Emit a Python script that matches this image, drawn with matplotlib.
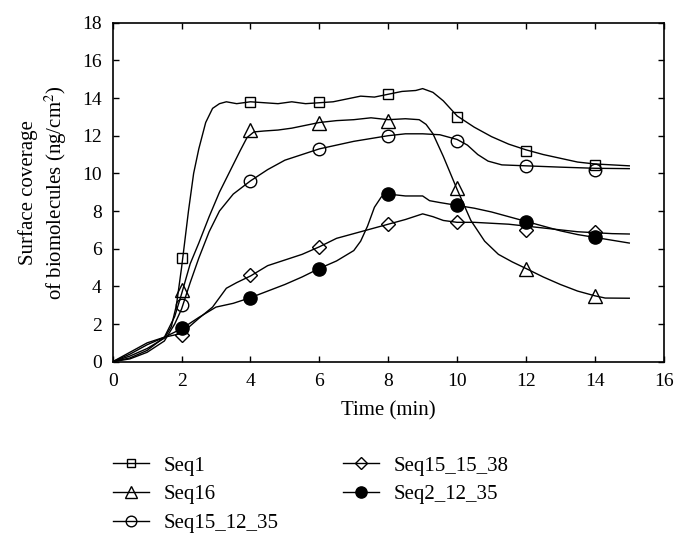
import matplotlib.pyplot as plt
from matplotlib.lines import Line2D

plt.rcParams['font.family'] = ['Liberation Serif', 'DejaVu Serif']
plt.rcParams['mathtext.fontset'] = 'stix'

# curve samples (time in min, coverage in ng/cm^2)
t_seq1 = [0, 0.5, 1.0, 1.5, 1.7, 1.85, 2.0, 2.2, 2.35, 2.5, 2.7, 2.9, 3.1, 3.3, 3.6, 4.0,
          4.4, 4.8, 5.2, 5.6, 6.0, 6.4, 6.8, 7.2, 7.6, 8.0, 8.4, 8.8, 9.0, 9.3, 9.6, 10.0,
          10.5, 11.0, 11.5, 12.0, 12.5, 13.0, 13.5, 14.0, 14.5, 15.0]
v_seq1 = [0, 0.3, 0.7, 1.25, 1.85, 3.0, 5.0, 8.0, 10.0, 11.3, 12.7, 13.45, 13.7, 13.8,
          13.7, 13.8, 13.75, 13.7, 13.8, 13.7, 13.75, 13.8, 13.95, 14.1, 14.05, 14.2,
          14.35, 14.4, 14.5, 14.3, 13.85, 13.05, 12.45, 11.95, 11.55, 11.25, 11.0, 10.8,
          10.6, 10.5, 10.45, 10.4]

t_seq16 = [0, 0.5, 1.0, 1.5, 1.8, 2.0, 2.25, 2.5, 2.8, 3.1, 3.4, 3.7, 3.9, 4.1, 4.4, 4.8,
           5.2, 5.6, 6.0, 6.5, 7.0, 7.5, 8.0, 8.5, 8.9, 9.1, 9.3, 9.6, 10.0, 10.4, 10.8,
           11.2, 11.6, 12.0, 12.5, 13.0, 13.5, 14.0, 14.3, 15.0]
v_seq16 = [0, 0.2, 0.6, 1.3, 2.4, 3.6, 5.2, 6.3, 7.7, 9.0, 10.1, 11.2, 11.9, 12.2, 12.25,
           12.3, 12.4, 12.55, 12.7, 12.8, 12.85, 12.95, 12.85, 12.9, 12.85, 12.6, 12.1,
           10.9, 9.15, 7.5, 6.4, 5.7, 5.3, 4.95, 4.5, 4.1, 3.75, 3.5, 3.38, 3.37]

t_seq15_12 = [0, 0.5, 1.0, 1.5, 1.8, 2.0, 2.25, 2.5, 2.8, 3.1, 3.5, 4.0, 4.5, 5.0, 5.5,
              6.0, 6.5, 7.0, 7.5, 8.0, 8.5, 9.0, 9.5, 10.0, 10.3, 10.6, 10.9, 11.3,
              12.0, 13.0, 14.0, 15.0]
v_seq15_12 = [0, 0.15, 0.5, 1.1, 2.0, 2.8, 4.2, 5.5, 6.9, 8.0, 8.9, 9.6, 10.2, 10.7, 11.0,
              11.3, 11.5, 11.7, 11.85, 12.0, 12.1, 12.1, 12.05, 11.8, 11.5, 11.0, 10.65,
              10.45, 10.4, 10.33, 10.27, 10.25]

t_seq15_15 = [0, 0.5, 1.0, 1.5, 2.0, 2.5, 2.9, 3.1, 3.3, 3.6, 4.0, 4.5, 5.0, 5.5, 6.0,
              6.5, 7.0, 7.5, 8.0, 8.5, 9.0, 9.3, 9.6, 10.0, 10.5, 11.0, 11.5, 12.0,
              12.5, 13.0, 13.5, 14.0, 14.5, 15.0]
v_seq15_15 = [0, 0.5, 1.0, 1.3, 1.5, 2.3, 2.9, 3.4, 3.9, 4.2, 4.55, 5.1, 5.4, 5.7, 6.1,
              6.55, 6.8, 7.05, 7.3, 7.55, 7.85, 7.7, 7.5, 7.4, 7.4, 7.35, 7.3, 7.2, 7.1,
              7.0, 6.9, 6.85, 6.8, 6.78]

t_seq2 = [0, 0.5, 1.0, 1.5, 2.0, 2.5, 3.0, 3.5, 4.0, 4.5, 5.0, 5.5, 6.0, 6.5, 7.0, 7.2,
          7.4, 7.6, 7.8, 8.0, 8.5, 9.0, 9.2, 9.5, 10.0, 10.5, 11.0, 11.5, 12.0, 12.5,
          13.0, 13.5, 14.0, 14.5, 15.0]
v_seq2 = [0, 0.4, 0.9, 1.3, 1.75, 2.35, 2.9, 3.1, 3.4, 3.75, 4.1, 4.5, 4.95, 5.35, 5.9,
          6.4, 7.2, 8.2, 8.75, 8.9, 8.8, 8.8, 8.55, 8.45, 8.3, 8.15, 7.95, 7.7, 7.45,
          7.2, 6.95, 6.75, 6.6, 6.45, 6.3]

# marker points every 2 min
t_marks = [2, 4, 6, 8, 10, 12, 14]
m_seq1 = [5.5, 13.8, 13.8, 14.2, 13.0, 11.2, 10.45]
m_seq16 = [3.8, 12.3, 12.7, 12.8, 9.2, 4.9, 3.5]
m_seq15_12 = [3.0, 9.6, 11.3, 12.0, 11.7, 10.4, 10.2]
m_seq15_15 = [1.4, 4.6, 6.1, 7.3, 7.4, 7.0, 6.9]
m_seq2 = [1.8, 3.4, 4.9, 8.9, 8.3, 7.4, 6.6]

series = [
    ("Seq1", t_seq1, v_seq1, m_seq1, 's', 'none', 7.5),
    ("Seq16", t_seq16, v_seq16, m_seq16, '^', 'none', 9.5),
    ("Seq15_12_35", t_seq15_12, v_seq15_12, m_seq15_12, 'o', 'none', 9),
    ("Seq15_15_38", t_seq15_15, v_seq15_15, m_seq15_15, 'D', 'none', 7.5),
    ("Seq2_12_35", t_seq2, v_seq2, m_seq2, 'o', 'black', 9.5),
]

fig = plt.figure(figsize=(6.86, 5.44), dpi=100)
ax = fig.add_axes([0.1643, 0.3351, 0.8032, 0.6232])

handles = []
for name, t, v, m, mk, fc, ms in series:
    ax.plot(t, v, color='black', lw=1.0)
    ax.plot(t_marks, m, linestyle='none', marker=mk, markersize=ms,
            markerfacecolor=fc, markeredgecolor='black', markeredgewidth=1.0)
    handles.append(Line2D([], [], color='black', lw=1.0, marker=mk, markersize=ms * 0.85,
                          markerfacecolor=fc, markeredgecolor='black',
                          markeredgewidth=1.0, label=name))

ax.set_xlim(0, 16)
ax.set_ylim(0, 18)
ax.set_xticks(range(0, 17, 2))
ax.set_yticks(range(0, 19, 2))
ax.tick_params(direction='in', length=4, width=1.0, labelsize=14,
               top=True, right=True, pad=8)
for s in ax.spines.values():
    s.set_linewidth(1.2)

ax.set_xlabel("Time (min)", fontsize=15, labelpad=8)
ax.set_ylabel("Surface coverage\nof biomolecules (ng/cm$^2$)", fontsize=15,
              labelpad=9, linespacing=1.25)

fig.legend(handles=handles, ncol=2, frameon=False, fontsize=15,
           loc='upper left', bbox_to_anchor=(0.1526, 0.177),
           handlelength=1.75, handletextpad=0.67, labelspacing=0.44,
           columnspacing=3.1, borderaxespad=0)

fig.savefig("out.png", dpi=100)
